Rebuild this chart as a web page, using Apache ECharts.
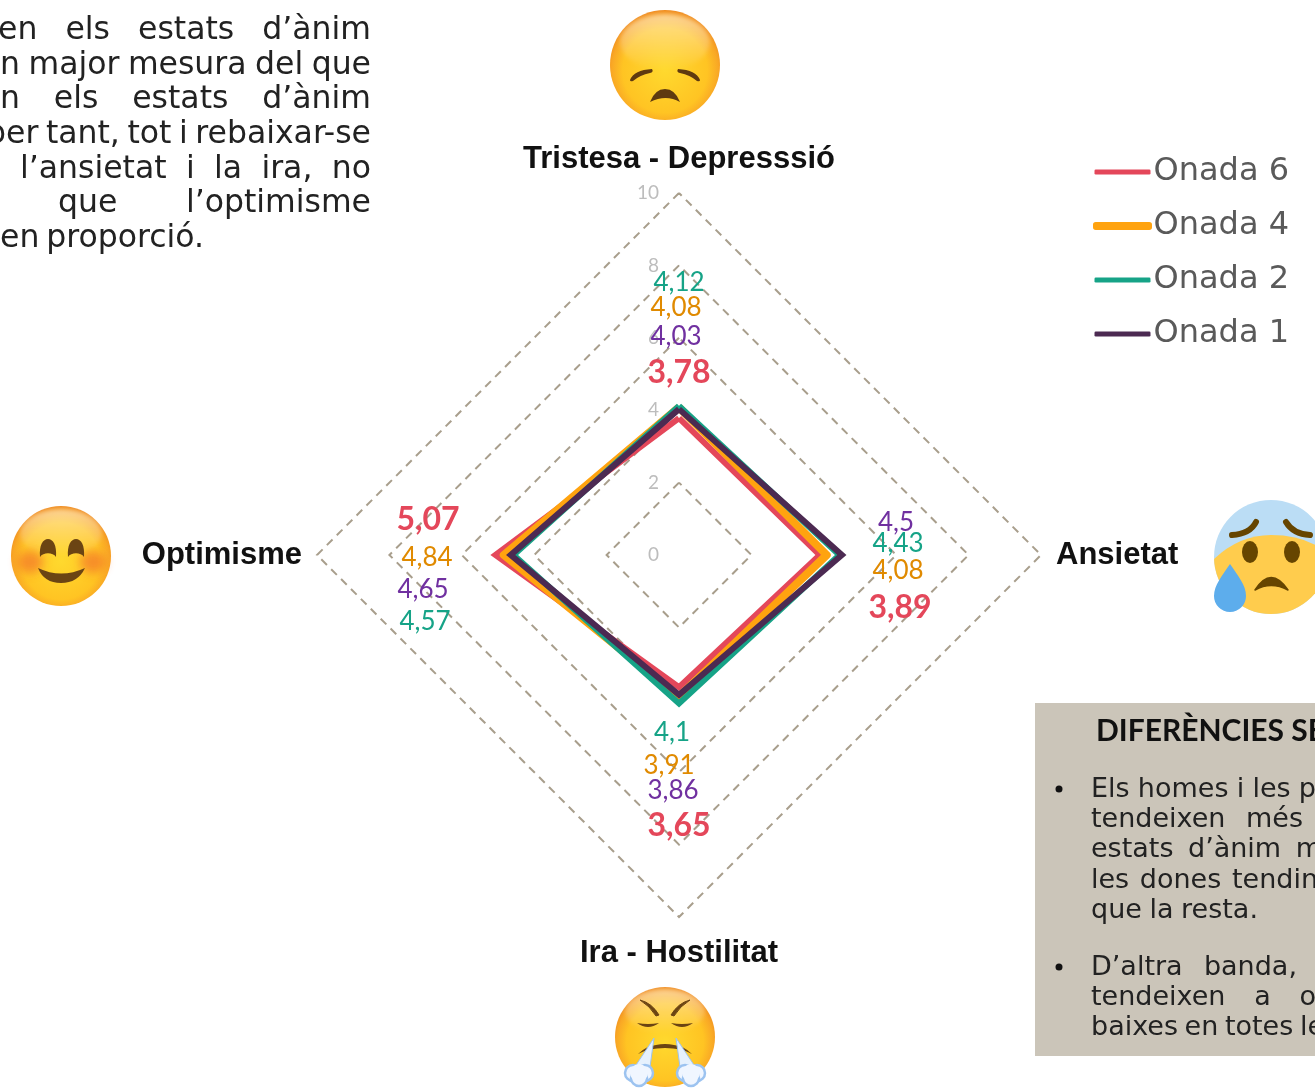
<!DOCTYPE html>
<html>
<head>
<meta charset="utf-8">
<title>Estats d'ànim</title>
<style>
html,body{margin:0;padding:0;background:#fff;overflow:hidden}
#main{width:1315px;height:1088px}
</style>
<script src="https://cdn.jsdelivr.net/npm/echarts@6/dist/echarts.min.js"></script>
</head>
<body>
<div id="main"></div>
<script>
var bodyFont='"DejaVu Sans"';
var labelFont='Lato';
var headFont='"Liberation Sans"';

/*dades: ordre antihorari des de dalt, com dibuixa el radar*/
var categories=['Tristesa - Depresssió','Optimisme','Ira - Hostilitat','Ansietat'];
var waveNames=['Onada 6','Onada 4','Onada 2','Onada 1'];
var onada6=[3.78,5.07,3.65,3.89];
var onada4=[4.08,4.84,3.91,4.08];
var onada2=[4.12,4.57,4.1,4.43];
var onada1=[4.03,4.65,3.86,4.5];
var axisMax=10;

/*colors*/
var lineColors=['#E4475A','#FFA30F','#16A387','#4C2A52'];
var labelColors=['#E4475A','#E08A00','#16A387','#7030A0'];
var lineWidths=[6,8,6,6];
var nameGaps=[18,15,17,15];
var waves=[onada6,onada4,onada2,onada1];

/*posicio de les etiquetes: [x,y] per onada i per categoria*/
var labelSpots=[
    [[679,373],[428,520],[679,826],[900,608]],
    [[676,308],[427,558],[669,766],[898,571]],
    [[679,283],[425,622],[672,733],[898,544]],
    [[676,337],[423,590],[673,791],[896,523]]
];

var leftLines=[
    {t:'en els estats d’ànim',l:-2,r:371,y:31},
    {t:'n major mesura del que',l:0,r:371,y:66},
    {t:'n els estats d’ànim',l:0,r:371,y:100},
    {t:'per tant, tot i rebaixar-se',l:-14,r:371,y:135},
    {t:'l’ansietat i la ira, no',l:20,r:371,y:170},
    {t:'que l’optimisme',l:58,r:371,y:204},
    {t:'en proporció.',l:0,r:204,y:239}
];
var boxLines=[
    {t:'Els homes i les p',l:1091,r:1316,y:790},
    {t:'tendeixen més',l:1091,r:1303,y:820},
    {t:'estats d’ànim m',l:1091,r:1322,y:850},
    {t:'les dones tendin',l:1091,r:1318,y:881},
    {t:'que la resta.',l:1091,r:1258,y:911},
    {t:'D’altra banda,',l:1091,r:1297,y:968},
    {t:'tendeixen a o',l:1091,r:1316,y:998},
    {t:'baixes en totes le',l:1091,r:1324,y:1028}
];

var ctx=document.createElement('canvas').getContext('2d');
function wordWidth(s,font){
    ctx.font=font;
    return ctx.measureText(s).width;
}
/*text justificat: una paraula per element*/
function justify(line,font,out){
    var words=line.t.split(' ');
    var total=0;
    words.forEach(function(w){total+=wordWidth(w,font);});
    var gap=words.length>1?(line.r-line.l-total)/(words.length-1):0;
    var x=line.l;
    words.forEach(function(w){
        out.push({type:'text',z:5,style:{text:w,x:x,y:line.y,font:font,fill:'#222',align:'left',verticalAlign:'middle'}});
        x+=wordWidth(w,font)+gap;
    });
}
function svg(w,h,body){
    return 'data:image/svg+xml;charset=utf-8,'+encodeURIComponent('<svg xmlns="http://www.w3.org/2000/svg" width="'+w+'" height="'+h+'" viewBox="0 0 '+w+' '+h+'">'+body+'</svg>');
}
function faceDefs(){
    return '<defs><radialGradient id="f" cx=".5" cy=".55" r=".55">'+
        '<stop offset="0" stop-color="#FFD92E"/><stop offset=".7" stop-color="#FFC423"/><stop offset=".88" stop-color="#F9A825"/><stop offset="1" stop-color="#EF8A1D"/>'+
        '</radialGradient><linearGradient id="s" x1="0" y1="0" x2="0" y2="1"><stop offset="0" stop-color="#fff" stop-opacity=".5"/><stop offset="1" stop-color="#fff" stop-opacity="0"/></linearGradient>'+
        '<filter id="b" x="-50%" y="-50%" width="200%" height="200%"><feGaussianBlur stdDeviation="5"/></filter><filter id="g" x="-20%" y="-20%" width="140%" height="140%"><feGaussianBlur stdDeviation="2"/></filter></defs>';
}
var sadFace=svg(130,130,faceDefs()+
    '<circle cx="65" cy="65" r="55" fill="url(#f)"/>'+
    '<ellipse cx="65" cy="42" rx="45" ry="28" fill="url(#s)" filter="url(#g)"/>'+
    '<path d="M30 80Q34 70 52 69Q54 72 50 73Q40 75 33 81Q30 82 30 80Z" fill="#5F3A10"/>'+
    '<path d="M100 80Q96 70 78 69Q76 72 80 73Q90 75 97 81Q100 82 100 80Z" fill="#5F3A10"/>'+
    '<path d="M50 102Q55 89 65 89Q75 89 80 102Q66 94 50 102Z" fill="#5F3A10"/>');
var smileFace=svg(125,125,faceDefs()+
    '<circle cx="61" cy="61" r="50" fill="url(#f)"/>'+
    '<ellipse cx="61" cy="38" rx="41" ry="24" fill="url(#s)" filter="url(#g)"/>'+
    '<ellipse cx="30" cy="67" rx="13" ry="11" fill="#F26A2A" opacity=".6" filter="url(#b)"/>'+
    '<ellipse cx="93" cy="67" rx="13" ry="11" fill="#F26A2A" opacity=".6" filter="url(#b)"/>'+
    '<path d="M40 62C39 50 43 44 48 44C53 44 57 50 56 62C53 57 43 57 40 62Z" fill="#6B4413"/>'+
    '<path d="M68 62C67 50 71 44 76 44C81 44 85 50 84 62C81 57 71 57 68 62Z" fill="#6B4413"/>'+
    '<path d="M38 73Q61 84 85 73Q78 88 61 88Q44 88 38 73Z" fill="#6B4413"/>');
var anxiousFace=svg(130,130,
    '<clipPath id="c"><circle cx="71" cy="67" r="57"/></clipPath>'+
    '<circle cx="71" cy="67" r="57" fill="#BBDDF5"/>'+
    '<path d="M0 130V85Q30 45 71 45Q112 45 135 70V130Z" fill="#FFCC4D" clip-path="url(#c)"/>'+
    '<path d="M32 45Q50 44 56 32M86 32Q93 44 110 45" fill="none" stroke="#664500" stroke-width="6" stroke-linecap="round"/>'+
    '<ellipse cx="50" cy="62" rx="8" ry="11" fill="#664500"/><ellipse cx="92" cy="62" rx="8" ry="11" fill="#664500"/>'+
    '<path d="M55 100Q71 75 88 100Q71 91 55 100Z" fill="#664500" stroke="#664500" stroke-width="1.5" stroke-linejoin="round"/>'+
    '<path d="M30 74C22 86 14 95 14 106A16 16 0 0 0 46 106C46 95 38 86 30 74Z" fill="#5DADEC"/>');
var angryFace=svg(130,113,faceDefs()+
    '<circle cx="65" cy="62" r="50" fill="url(#f)"/>'+
    '<ellipse cx="65" cy="36" rx="40" ry="22" fill="url(#s)" filter="url(#g)"/>'+
    '<path d="M40 25Q52 28 59 40L56 41Q50 31 40 25Z" fill="#6B4413" stroke="#6B4413"/>'+
    '<path d="M90 25Q78 28 71 40L74 41Q80 31 90 25Z" fill="#6B4413" stroke="#6B4413"/>'+
    '<path d="M37 48Q48 50 59 48Q48 56 37 48Z" fill="#6B4413"/>'+
    '<path d="M71 48Q82 50 93 48Q82 56 71 48Z" fill="#6B4413"/>'+
    '<path d="M38 79Q46 71 56 70Q65 68 74 70Q84 71 92 79Q82 73 65 73Q48 73 38 79Z" fill="#6B4413"/>'+
    '<path d="M54 63L50 92L36 90ZM76 63L80 92L94 90Z" fill="#E6F1FD" stroke="#9CC3F0" stroke-width="1"/>'+
    '<g fill="#F0F6FF" stroke="#9CC3F0" stroke-width="2.5"><circle cx="33" cy="98" r="8"/><circle cx="45" cy="98" r="8"/><circle cx="39" cy="103" r="8"/><circle cx="85" cy="98" r="8"/><circle cx="97" cy="98" r="8"/><circle cx="91" cy="103" r="8"/></g>'+
    '<g fill="#F0F6FF"><circle cx="39" cy="98" r="9"/><circle cx="91" cy="98" r="9"/></g>');

/*elements fixos*/
var graphicItems=[];
graphicItems.push({type:'rect',z:1,shape:{x:1035,y:703,width:280,height:353},style:{fill:'#CBC5B9'}});
graphicItems.push({type:'text',z:5,style:{text:'DIFERÈNCIES SE',x:1096,y:731,font:'bold 30px '+labelFont,fill:'#111',align:'left',verticalAlign:'middle'}});
[789,967].forEach(function(y){
    graphicItems.push({type:'circle',z:5,shape:{cx:1059,cy:y,r:3.5},style:{fill:'#111'}});
});
leftLines.forEach(function(l){justify(l,'31.5px '+bodyFont,graphicItems);});
boxLines.forEach(function(l){justify(l,'27px '+bodyFont,graphicItems);});
[[sadFace,600,0,130,130],[smileFace,0,495,125,125],[anxiousFace,1200,490,130,130],[angryFace,600,975,130,113]].forEach(function(e){
    graphicItems.push({type:'image',z:6,style:{image:e[0],x:e[1],y:e[2],width:e[3],height:e[4]}});
});
waves.forEach(function(vals,w){
    vals.forEach(function(v,c){
        graphicItems.push({type:'text',z:7,style:{
            text:String(v).replace('.',','),
            x:labelSpots[w][c][0],y:labelSpots[w][c][1],
            font:(w==0?'bold 32px ':'26px ')+labelFont,
            fill:labelColors[w],align:'center',verticalAlign:'middle'
        }});
    });
});

var myChart=echarts.init(document.getElementById('main'),null,{renderer:'canvas'});
var indicators=categories.map(function(name,i){
    var ind={name:name,min:0,max:axisMax,nameGap:nameGaps[i]};
    if(i==0){
        ind.axisLabel={show:true,color:'#BDBDBD',fontSize:19,fontFamily:labelFont,margin:20};
    }
    return ind;
});
var option={
    animation:false,
    backgroundColor:'#fff',
    legend:{
        orient:'vertical',left:1093,top:156,padding:0,
        data:waveNames.map(function(n,i){
            return i==1?{name:n,itemStyle:{borderColor:lineColors[i],borderWidth:3}}:{name:n};
        }),
        selectedMode:false,
        icon:'roundRect',itemWidth:56,itemHeight:5,itemGap:22,
        textStyle:{fontSize:32,color:'#5A5A5A',fontFamily:bodyFont,padding:[5,0,0,-2]}
    },
    radar:{
        center:[679,555],radius:362,
        splitNumber:5,shape:'polygon',
        indicator:indicators,
        axisName:{color:'#111',fontSize:31,fontWeight:'bold',fontFamily:headFont,padding:[4,0,0,0]},
        nameGap:15,
        axisLine:{show:false},axisTick:{show:false},
        axisLabel:{show:false},
        splitArea:{show:false},
        splitLine:{lineStyle:{color:'#A89E8C',width:2,type:[8,6]}}
    },
    series:waves.map(function(vals,i){
        return {
            type:'radar',name:waveNames[i],symbol:'none',
            lineStyle:{color:lineColors[i],width:lineWidths[i],join:i==1?'round':'miter',miterLimit:10},
            itemStyle:{color:lineColors[i]},
            data:[{name:waveNames[i],value:vals}]
        };
    }),
    graphic:graphicItems
};
myChart.setOption(option);
</script>
</body>
</html>
